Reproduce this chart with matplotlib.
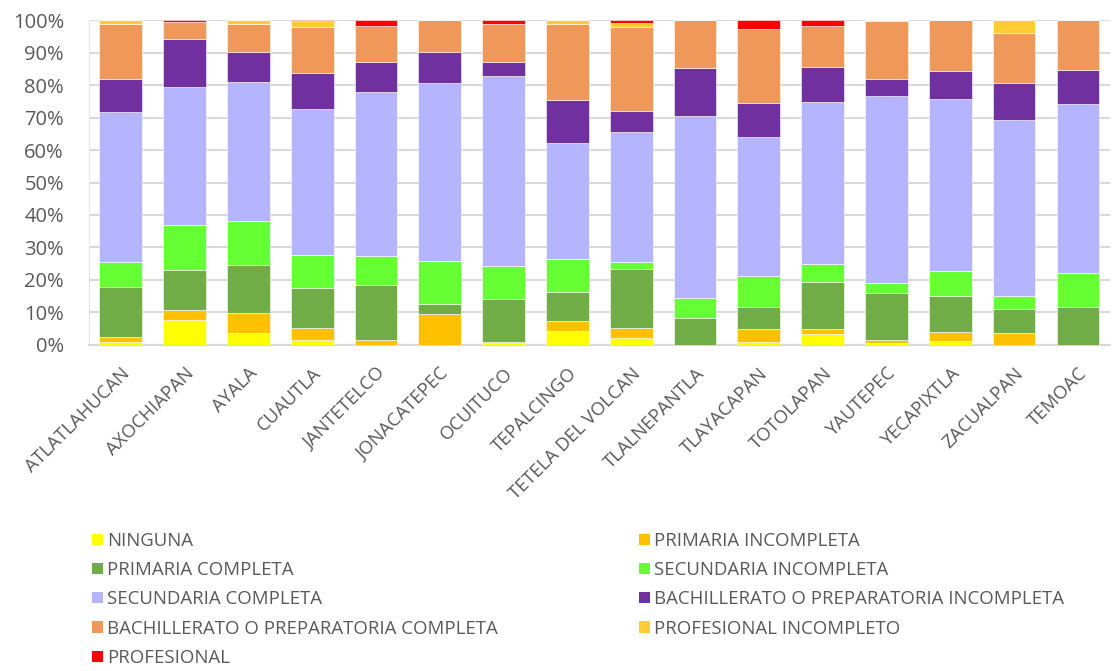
import numpy as np
import matplotlib.pyplot as plt
from matplotlib.patches import Patch

plt.rcParams['font.family'] = ['Open Sans', 'DejaVu Sans']

municipios = ["ATLATLAHUCAN", "AXOCHIAPAN", "AYALA", "CUAUTLA", "JANTETELCO",
              "JONACATEPEC", "OCUITUCO", "TEPALCINGO", "TETELA DEL VOLCAN",
              "TLALNEPANTLA", "TLAYACAPAN", "TOTOLAPAN", "YAUTEPEC",
              "YECAPIXTLA", "ZACUALPAN", "TEMOAC"]

ninguna          = [1.0, 7.7, 3.7, 1.5, 0.0, 0.0, 1.0, 4.3, 2.0, 0.0, 1.0, 3.4, 0.6, 1.3, 0.0, 0.0]
primaria_inc     = [1.4, 3.1, 6.2, 3.7, 1.5, 9.5, 0.0, 3.2, 3.1, 0.0, 4.0, 1.6, 0.9, 2.6, 3.7, 0.0]
primaria_comp    = [15.4, 12.3, 14.8, 12.2, 16.8, 3.1, 13.1, 8.9, 18.2, 8.4, 6.8, 14.4, 14.4, 11.1, 7.5, 11.8]
secundaria_inc   = [7.6, 13.9, 13.3, 10.3, 9.2, 13.1, 10.1, 10.1, 2.3, 6.0, 9.3, 5.4, 3.1, 7.9, 4.0, 10.4]
secundaria_comp  = [46.3, 42.5, 43.1, 44.8, 50.3, 55.0, 58.5, 35.7, 40.0, 56.0, 42.8, 50.1, 57.7, 52.8, 54.0, 52.0]
bach_inc         = [10.3, 14.6, 9.0, 11.2, 9.2, 9.6, 4.5, 13.3, 6.3, 14.8, 10.7, 10.7, 5.1, 8.6, 11.5, 10.4]
bach_comp        = [16.9, 5.2, 8.8, 14.2, 11.1, 9.7, 11.5, 23.4, 25.9, 14.8, 22.7, 12.5, 17.9, 15.7, 15.3, 15.4]
profesional_inc  = [1.1, 0.0, 1.1, 1.8, 0.0, 0.0, 0.0, 1.1, 1.2, 0.0, 0.0, 0.0, 0.3, 0.0, 4.0, 0.0]
profesional      = [0.0, 0.7, 0.0, 0.3, 1.9, 0.0, 1.3, 0.0, 1.0, 0.0, 2.7, 1.9, 0.0, 0.0, 0.0, 0.0]

series = [
    ("NINGUNA", ninguna, "#FFFF00"),
    ("PRIMARIA INCOMPLETA", primaria_inc, "#FFC000"),
    ("PRIMARIA COMPLETA", primaria_comp, "#70AD47"),
    ("SECUNDARIA INCOMPLETA", secundaria_inc, "#66FF33"),
    ("SECUNDARIA COMPLETA", secundaria_comp, "#B4B4FF"),
    ("BACHILLERATO O PREPARATORIA INCOMPLETA", bach_inc, "#7030A0"),
    ("BACHILLERATO O PREPARATORIA COMPLETA", bach_comp, "#F0985A"),
    ("PROFESIONAL INCOMPLETO", profesional_inc, "#FFCC33"),
    ("PROFESIONAL", profesional, "#FF0000"),
]

fig = plt.figure(figsize=(11.12, 6.71), dpi=100)
ax = fig.add_axes([0.080, 0.486, 0.918, 0.484])

x = np.arange(len(municipios))
# normalise each column to 100 %
tot = np.sum([np.array(s[1]) for s in series], axis=0)
bottom = np.zeros(len(municipios))
handles = []
for name, vals, col in series:
    v = np.array(vals) / tot
    ax.bar(x, v, 0.67, bottom=bottom, color=col, edgecolor='white', linewidth=0.4, zorder=3)
    bottom += v
    handles.append(Patch(facecolor=col, label=name))

ax.set_xlim(-0.5, len(municipios) - 0.5)
ax.set_ylim(0, 1)
ax.set_yticks(np.arange(0, 1.01, 0.1))
ax.set_yticklabels([f"{int(round(t*100))}%" for t in np.arange(0, 1.01, 0.1)],
                   fontsize=14.5, color='#595959')
ax.set_xticks(x)
ax.set_xticklabels(municipios, rotation=45, ha='right', rotation_mode='anchor',
                   fontsize=13.3, color='#595959')
ax.tick_params(axis='both', length=0)
ax.tick_params(axis='x', pad=14)
ax.tick_params(axis='y', pad=18)
ax.grid(axis='y', color='#D9D9D9', linewidth=1.5, zorder=0)
for s in ['top', 'right']:
    ax.spines[s].set_visible(False)
ax.spines['left'].set_color('#E6E6E6')
ax.spines['bottom'].set_color('#D9D9D9')
ax.spines['bottom'].set_linewidth(1.5)

# row-wise order in two columns
order = [0, 2, 4, 6, 8, 1, 3, 5, 7]
fig.legend([handles[i] for i in order], [handles[i].get_label() for i in order],
           ncol=2, loc='upper left', bbox_to_anchor=(0.083, 0.207),
           frameon=False, fontsize=13.4, labelcolor='#595959',
           handlelength=0.55, handleheight=0.55, handletextpad=0.25,
           columnspacing=7.6, labelspacing=0.6, borderpad=0, borderaxespad=0)

fig.savefig("out.png", dpi=100)
